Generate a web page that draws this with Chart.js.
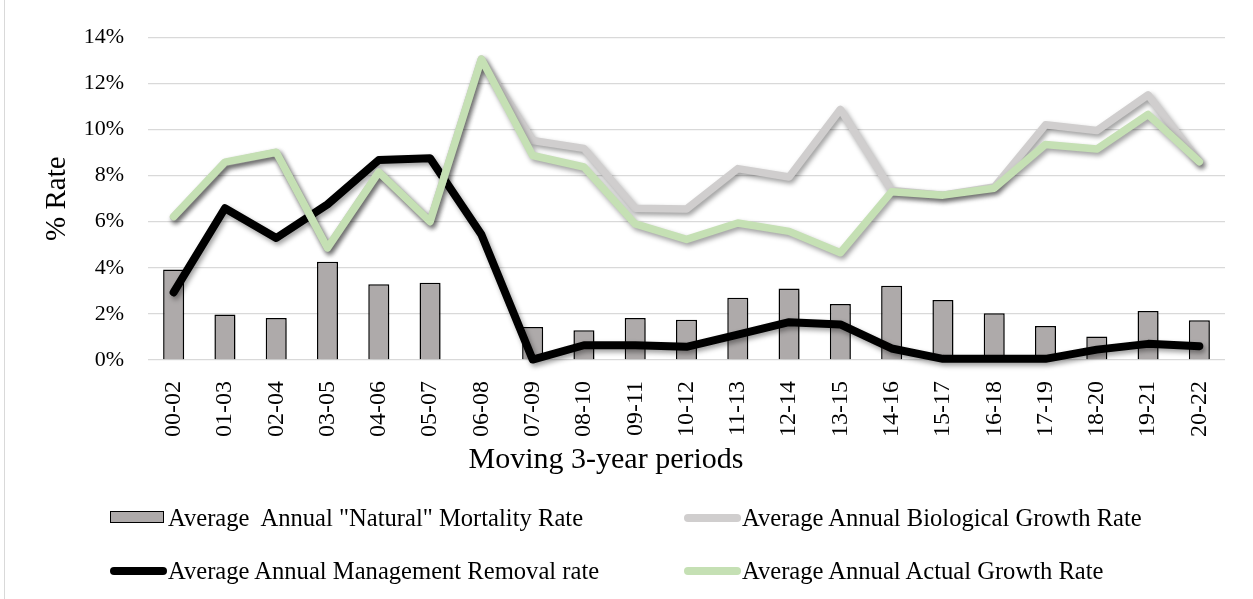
<!DOCTYPE html>
<html>
<head>
<meta charset="utf-8">
<script src="https://cdn.jsdelivr.net/npm/chart.js@4/dist/chart.umd.min.js"></script>
<style>
  html, body { margin: 0; padding: 0; background: #fff; }
  #wrap { position: relative; width: 1253px; height: 599px; overflow: hidden; }
  #frame { position: absolute; left: 4px; top: 0; width: 1px; height: 599px; background: #d9d9d9; }
  #legend { position: absolute; left: 0; top: 0; width: 1253px; height: 599px; pointer-events: none;
            font-family: 'Liberation Serif', 'Times New Roman', serif; font-size: 24.6px; color: #000; }
  .item { position: absolute; height: 30px; line-height: 30px; white-space: pre; }
  .sw { position: absolute; top: 50%; }
  .txt { position: absolute; top: 0; }
</style>
</head>
<body>
<div id="wrap">
  <canvas id="chart" width="1253" height="599"></canvas>
  <div id="frame"></div>
  <div id="legend"></div>
</div>
<script>
// moving 3-year periods
const periods = ['00-02','01-03','02-04','03-05','04-06','05-07','06-08','07-09','08-10','09-11','10-12',
                 '11-13','12-14','13-15','14-16','15-17','16-18','17-19','18-20','19-21','20-22'];

// all values in %
const mortalityRate = [3.93, 1.97, 1.82, 4.26, 3.29, 3.35, null, 1.43, 1.29, 1.82, 1.75,
                       2.7, 3.1, 2.43, 3.22, 2.6, 2.03, 1.47, 1.02, 2.12, 1.72];
const biologicalGrowth = [6.2, 8.55, 9.0, 4.85, 8.15, 6.0, 13.05, 9.52, 9.18, 6.58, 6.55,
                          8.3, 7.94, 10.87, 7.35, 7.15, 7.5, 10.2, 9.95, 11.5, 8.6];
const removalRate = [2.93, 6.58, 5.29, 6.75, 8.67, 8.75, 5.44, 0.02, 0.64, 0.64, 0.57,
                     1.1, 1.64, 1.54, 0.5, 0.05, 0.05, 0.05, 0.45, 0.7, 0.6];
const actualGrowth = [6.22, 8.58, 9.01, 4.86, 8.15, 6.0, 13.05, 8.87, 8.37, 5.9, 5.23,
                      5.94, 5.58, 4.65, 7.3, 7.15, 7.45, 9.35, 9.15, 10.65, 8.6];

const yTicks = [0, 2, 4, 6, 8, 10, 12, 14];

const serif = "'Liberation Serif', 'Times New Roman', serif";
const xTitle = 'Moving 3-year periods';

// soft drop shadow like the office chart
const shadowPlugin = {
  id: 'shadow',
  beforeDatasetDraw(chart, args) {
    const ctx = chart.ctx;
    ctx.save();
    const isBar = args.meta.type === 'bar';
    ctx.shadowColor = isBar ? 'rgba(0,0,0,0.25)' : 'rgba(0,0,0,0.38)';
    ctx.shadowBlur = isBar ? 4 : 5;
    ctx.shadowOffsetX = 2;
    ctx.shadowOffsetY = 3;
  },
  afterDatasetDraw(chart) {
    chart.ctx.restore();
  }
};

// x axis title sits left of the plot centre in the original, so draw it by hand
const xTitlePlugin = {
  id: 'xTitle',
  afterDraw(chart) {
    const ctx = chart.ctx;
    const xs = chart.scales.x;
    ctx.save();
    ctx.font = '30px ' + serif;
    ctx.fillStyle = '#000';
    ctx.textAlign = 'center';
    ctx.textBaseline = 'alphabetic';
    ctx.fillText(xTitle, xs.left + 458, 468);
    ctx.restore();
  }
};

function lineSet(label, data, color, width, order) {
  return {
    type: 'line', label: label, data: data,
    borderColor: color, backgroundColor: color,
    borderWidth: width, pointRadius: 0, tension: 0,
    borderJoinStyle: 'round', borderCapStyle: 'round',
    order: order, clip: false
  };
}

const ctx = document.getElementById('chart').getContext('2d');
const chart = new Chart(ctx, {
  type: 'bar',
  data: {
    labels: periods,
    datasets: [
      {
        label: 'Average  Annual "Natural" Mortality Rate',
        data: mortalityRate,
        backgroundColor: '#aeaaaa', borderColor: '#000', borderWidth: 1.5,
        barPercentage: 0.41, categoryPercentage: 1, order: 4
      },
      lineSet('Average Annual Biological Growth Rate', biologicalGrowth, '#d0cece', 7.5, 2),
      lineSet('Average Annual Management Removal rate', removalRate, '#000000', 8, 3),
      lineSet('Average Annual Actual Growth Rate', actualGrowth, '#c5e0b4', 7.5, 1)
    ]
  },
  options: {
    responsive: false,
    animation: false,
    layout: { padding: { left: 40, right: 28, top: 34, bottom: 123 } },
    plugins: { legend: { display: false }, tooltip: { enabled: false } },
    scales: {
      x: {
        grid: { display: false },
        border: { display: false },
        ticks: { color: '#000', font: { family: serif, size: 24 }, minRotation: 90, maxRotation: 90, padding: 13 },
        afterFit(scale) { scale.height = 116; }
      },
      y: {
        min: 0, max: 14,
        afterBuildTicks(scale) { scale.ticks = yTicks.map(v => ({ value: v })); },
        grid: { color: '#d9d9d9', lineWidth: 1.3, drawTicks: false },
        border: { display: false },
        ticks: { color: '#000', font: { family: serif, size: 22 }, padding: 24,
                 callback: v => v + '%' },
        title: { display: true, text: '% Rate', color: '#000',
                 font: { family: serif, size: 29 }, padding: { top: 0, bottom: 0 } },
        afterFit(scale) { scale.width = 108; }
      }
    }
  },
  plugins: [shadowPlugin, xTitlePlugin]
});

// legend in two columns, built from the chart datasets
const legendSlots = [
  { x: 110, y: 518 }, { x: 684, y: 518 },
  { x: 110, y: 571 }, { x: 684, y: 571 }
];
const legendEl = document.getElementById('legend');
chart.data.datasets.forEach((ds, i) => {
  const slot = legendSlots[i];
  const item = document.createElement('div');
  item.className = 'item';
  item.style.left = slot.x + 'px';
  item.style.top = (slot.y - 15) + 'px';
  const sw = document.createElement('div');
  sw.className = 'sw';
  if (ds.type === 'line') {
    sw.style.left = '0px';
    sw.style.width = '57px';
    sw.style.height = '8px';
    sw.style.marginTop = '-4px';
    sw.style.borderRadius = '4px';
    sw.style.background = ds.borderColor;
  } else {
    sw.style.left = '0px';
    sw.style.width = '52px';
    sw.style.height = '10px';
    sw.style.marginTop = '-7px';
    sw.style.background = ds.backgroundColor;
    sw.style.border = '1.5px solid #000';
  }
  const txt = document.createElement('div');
  txt.className = 'txt';
  txt.style.left = '58px';
  txt.textContent = ds.label;
  item.appendChild(sw);
  item.appendChild(txt);
  legendEl.appendChild(item);
});
</script>
</body>
</html>
